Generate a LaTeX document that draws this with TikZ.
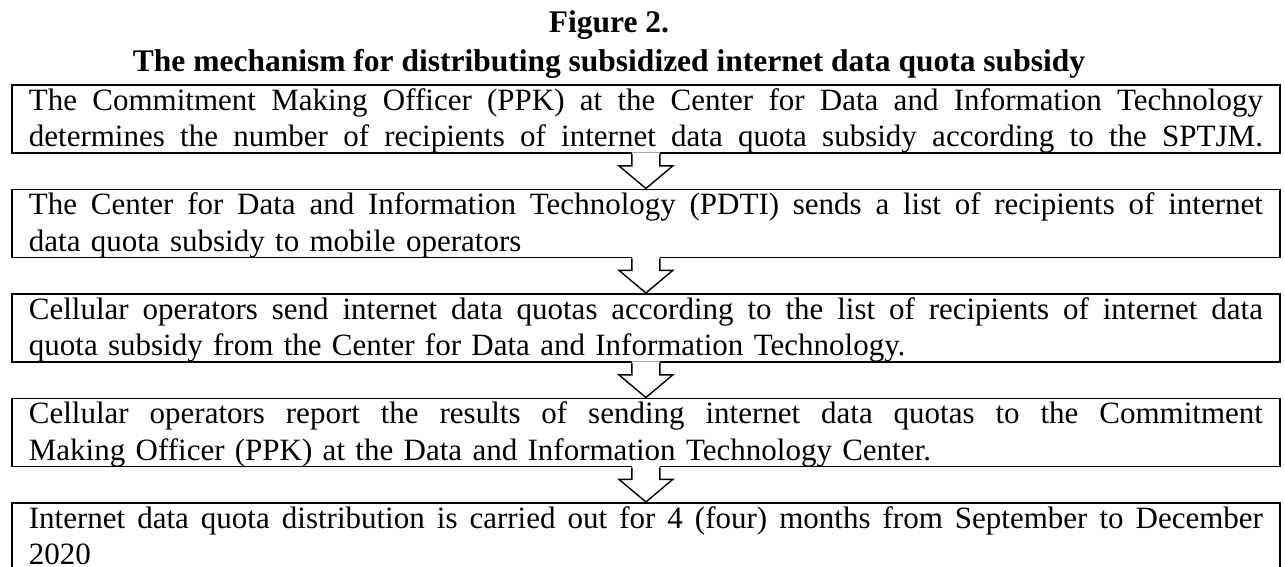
\documentclass[tikz,border=0pt]{standalone}
\usepackage{fontspec}
\setmainfont{Liberation Serif}
\usetikzlibrary{calc}
\newcommand\fullline[1]{{\spaceskip=0.25em plus 1fil\relax\xspaceskip=\spaceskip\hbox to 1234pt{#1}}}
\begin{document}
\begin{tikzpicture}[x=1pt,y=-1pt,
  stepbox/.style={draw=black, line width=1.8pt, inner xsep=17pt, inner ysep=0pt,
    text width=1234pt, align=left, text height=25.5pt, text depth=42.5pt,
    font=\fontsize{31}{36.5}\selectfont, anchor=north west},
  titletext/.style={font=\fontsize{31.5}{34}\selectfont\bfseries, anchor=base, inner sep=0pt},
  flowarrow/.style={draw=black, line width=1.4pt, line join=miter}
]
\useasboundingbox (0,0) rectangle (1285,567);
\clip (0,0) rectangle (1285,567);
\fill[white] (0,0) rectangle (1285,567);

\node[titletext] (t1) at (609,33) {Figure 2.};
\node[titletext] (t2) at (609,72) {The mechanism for distributing subsidized internet data quota subsidy};

\node[stepbox] (b1) at (11,84) {\fullline{The Commitment Making Officer (PPK) at the Center for Data and Information Technology}\\\fullline{determines the number of recipients of internet data quota subsidy according to the SPTJM.}};
\node[stepbox] (b2) at (11,188.5) {\fullline{The Center for Data and Information Technology (PDTI) sends a list of recipients of internet}\\data quota subsidy to mobile operators};
\node[stepbox] (b3) at (11,293) {\fullline{Cellular operators send internet data quotas according to the list of recipients of internet data}\\quota subsidy from the Center for Data and Information Technology.};
\node[stepbox] (b4) at (11,397.5) {\fullline{Cellular operators report the results of sending internet data quotas to the Commitment}\\Making Officer (PPK) at the Data and Information Technology Center.};
\node[stepbox, text depth=42pt] (b5) at (11,502) {\fullline{Internet data quota distribution is carried out for 4 (four) months from September to December}\\2020};

\foreach \a/\b in {b1/b2,b2/b3,b3/b4,b4/b5} {
  \fill[white] ($(\a.south)+(-14,-1.5)$) -- ($(\a.south)+(-14,12)$) -- ($(\a.south)+(-27,12)$) -- (\b.north)
    -- ($(\a.south)+(27,12)$) -- ($(\a.south)+(14,12)$) -- ($(\a.south)+(14,-1.5)$) -- cycle;
  \draw[flowarrow] ($(\a.south)+(-14,0)$) -- ($(\a.south)+(-14,12)$) -- ($(\a.south)+(-27,12)$) -- (\b.north)
    -- ($(\a.south)+(27,12)$) -- ($(\a.south)+(14,12)$) -- ($(\a.south)+(14,0)$);
}
\end{tikzpicture}
\end{document}
